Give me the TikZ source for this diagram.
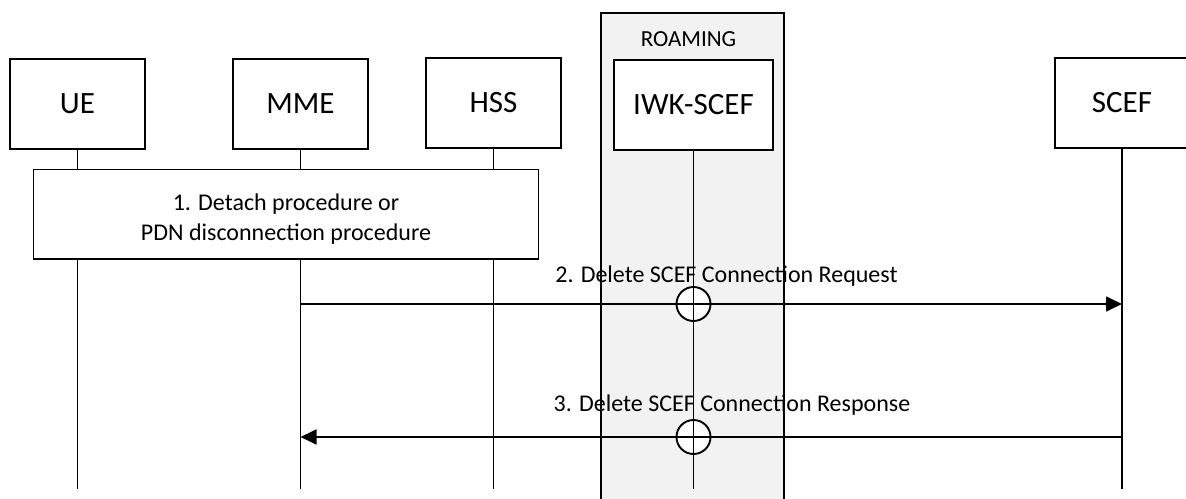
\documentclass[tikz,border=0pt]{standalone}
\usepackage{fontspec}
\setmainfont{Carlito}
\usetikzlibrary{arrows.meta}
\begin{document}
\begin{tikzpicture}[x=1pt,y=-1pt,
  lw/.style={line width=1.9pt},
  actor/.style={draw, lw, fill=white, minimum width=135pt, minimum height=90pt, inner sep=0pt, font=\fontsize{31}{37}\selectfont},
  life/.style={lw},
  msg/.style={line width=1.7pt, -{Triangle[length=16pt,width=15pt]}},
  lbl/.style={anchor=base, inner sep=0pt, font=\fontsize{24}{30}\selectfont},
  cross/.style={circle, draw, lw, fill=white, minimum size=34pt, inner sep=0pt},
  procbox/.style={draw, lw, fill=white, minimum width=505pt, minimum height=89.5pt, inner sep=0pt},
  grp/.style={draw, lw, fill=black!5, inner sep=0pt, anchor=north west}]
\useasboundingbox (0,0) rectangle (1186,498);
% roaming group
\node[grp, minimum width=183pt, minimum height=500pt] (roam) at (600,12) {};
\node[lbl, font=\fontsize{23}{28}\selectfont] (roamlbl) at (688.5,46.7) {ROAMING};
% participants
\node[actor] (ue) at (77.5,104) {UE};
\node[actor] (mme) at (300.5,104) {MME};
\node[actor] (hss) at (493.5,103) {HSS};
\node[actor, minimum width=159pt] (iwk) at (693.5,105) {IWK-SCEF};
\node[actor, minimum width=134pt] (scef) at (1122,103) {SCEF};
% helper coordinates
\coordinate (bot) at (0,489);
\coordinate (y2) at (0,304);
\coordinate (y3) at (0,437);
% message labels
\node[lbl] (l2) at (726.5,282.7) {2. Delete SCEF Connection Request};
\node[lbl] (l3) at (732,411) {3. Delete SCEF Connection Response};
% crossing circles
\node[cross] (c2) at (iwk.south |- y2) {};
\node[cross] (c3) at (iwk.south |- y3) {};
% lifelines
\foreach \n in {ue,mme,hss,iwk,scef}
  \draw[life] (\n.south) -- (\n.south |- bot);
% messages
\draw[msg] (mme.south |- y2) -- (scef.south |- y2);
\draw[msg] (scef.south |- y3) -- (mme.south |- y3);
% procedure box
\node[procbox] (proc) at (286,214.25) {};
\node[align=center, inner sep=0pt, font=\fontsize{24}{30}\selectfont] (proctxt) at (286,219) {1. Detach procedure or\\PDN disconnection procedure};
\end{tikzpicture}
\end{document}
